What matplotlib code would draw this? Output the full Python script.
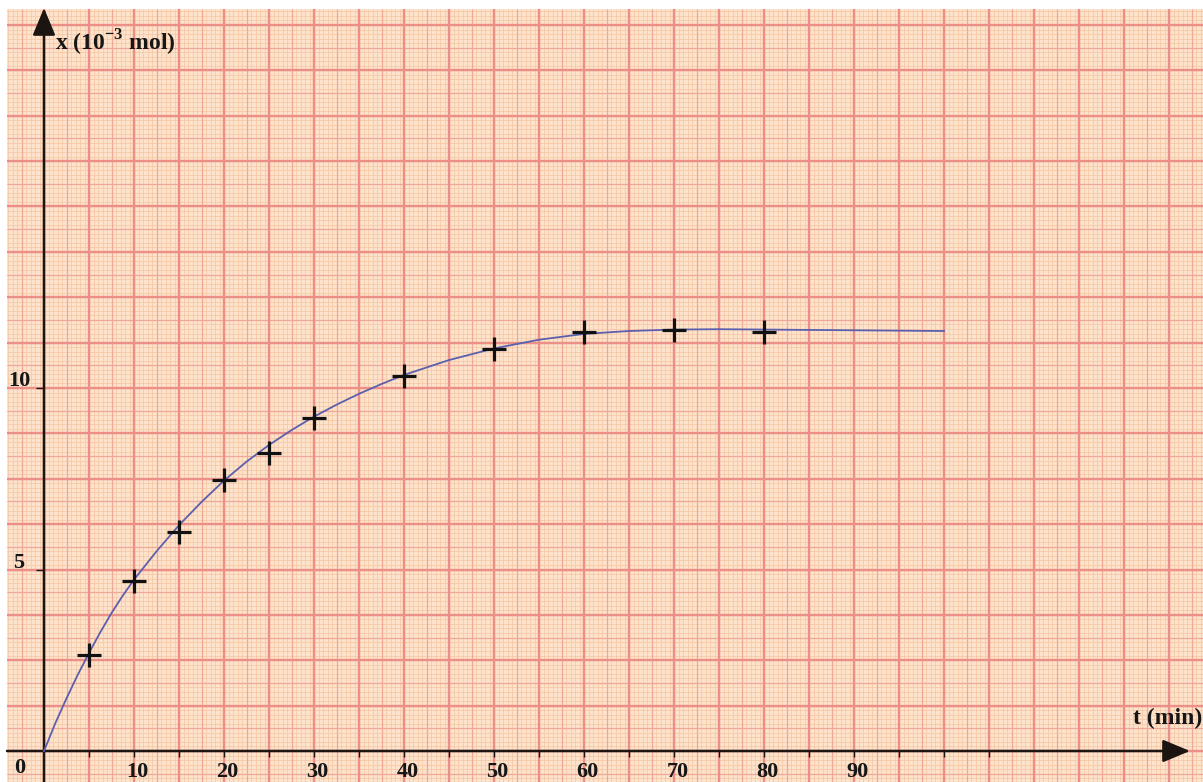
import numpy as np
from matplotlib import pyplot as plt

plt.rcParams['font.family'] = ['Liberation Serif', 'DejaVu Serif']
plt.rcParams['font.weight'] = 'bold'
plt.rcParams['mathtext.fontset'] = 'custom'
plt.rcParams['mathtext.rm'] = 'Liberation Serif:bold'
plt.rcParams['mathtext.bf'] = 'Liberation Serif:bold'

# measured points (t in min, x in 10^-3 mol)
tPoints = [5, 10, 15, 20, 25, 30, 40, 50, 60, 70, 80]
xPoints = [2.64, 4.69, 6.04, 7.47, 8.20, 9.17, 10.33, 11.07, 11.53, 11.60, 11.54]

# drawn curve
tCurve = [0, 1.25, 2.5, 3.75, 5, 6.25, 7.5, 8.75, 10, 12.5, 15, 17.5, 20, 22.5, 25, 27.5,
          30, 32.5, 35, 37.5, 40, 45, 50, 55, 60, 65, 70, 75, 80, 85, 90, 95, 100]
xCurve = [0, 0.76, 1.45, 2.10, 2.70, 3.27, 3.80, 4.28, 4.72, 5.50, 6.22, 6.86, 7.45, 7.97,
          8.43, 8.84, 9.21, 9.54, 9.84, 10.11, 10.36, 10.77, 11.09, 11.33, 11.49, 11.57,
          11.61, 11.62, 11.61, 11.60, 11.59, 11.58, 11.57]

xTickLabels = [10, 20, 30, 40, 50, 60, 70, 80, 90]
yTickLabels = [5, 10]

# graph paper scale
pxPerMin = 9.0
pxPerUnit = 36.3
originPx = (44, 751)
W, H = 1203, 782


def toData(px, py):
    return (px - originPx[0]) / pxPerMin, (originPx[1] - py) / pxPerUnit


fig = plt.figure(figsize=(W / 100, H / 100), dpi=100)
ax = fig.add_axes([0, 0, 1, 1])
ax.axis('off')
x0, y0 = toData(0, H)
x1, y1 = toData(W, 0)
ax.set_xlim(x0, x1)
ax.set_ylim(y0, y1)

# paper
px0, py1 = toData(7, 9)
ax.fill_between([px0, x1], y0, py1, color='#fde3cc', zorder=0, lw=0)

# fine / medium / thick lines
for step, color, lw, z in [(0.5, '#f4c8a6', 0.55, 1), (2.5, '#efa898', 0.9, 2), (5.0, '#eb8f87', 1.7, 3)]:
    ts = np.arange(0, x1, step)
    ts = np.concatenate([np.arange(-step, px0, -step)[::-1], ts])
    ax.vlines(ts, y0, py1, colors=color, lw=lw, zorder=z)
for step, color, lw, z in [(0.125, '#f4c8a6', 0.55, 1), (0.625, '#efa898', 0.9, 2), (1.25, '#eb8f87', 1.7, 3)]:
    ys = np.arange(0, py1, step)
    ys = np.concatenate([np.arange(-step, y0, -step)[::-1], ys])
    ax.hlines(ys, px0, x1, colors=color, lw=lw, zorder=z)

# axes with arrows
axisColor = '#1c1410'
tipX, _ = toData(1190, 0)
_, tipY = toData(0, 8)
ax.annotate('', xy=(tipX, 0), xytext=(px0, 0),
            arrowprops=dict(arrowstyle='-|>,head_length=1.2,head_width=0.5', color=axisColor,
                            lw=1.8, shrinkA=0, shrinkB=0, mutation_scale=14), zorder=6)
ax.annotate('', xy=(0, tipY), xytext=(0, y0),
            arrowprops=dict(arrowstyle='-|>,head_length=1.2,head_width=0.5', color=axisColor,
                            lw=1.8, shrinkA=0, shrinkB=0, mutation_scale=14), zorder=6)

# ticks
tickLen = 6 / pxPerUnit
ax.vlines(np.arange(5, 110, 5), -tickLen, 0, colors=axisColor, lw=1.0, zorder=6)
ax.hlines(yTickLabels, -8 / pxPerMin, 0, colors=axisColor, lw=1.0, zorder=6)

labY = toData(0, 762)[1]
for v in xTickLabels:
    ax.text(v + 0.4, labY, str(v), ha='center', va='top', fontsize=16, fontweight='bold',
            color='#161616', zorder=7)
ax.text(toData(20, 0)[0], toData(0, 758)[1], '0', ha='center', va='top', fontsize=16,
        fontweight='bold', color='#161616', zorder=7)
for v in yTickLabels:
    ax.text(toData(19, 0)[0], v + 0.05, str(v), ha='center', va='baseline', fontsize=16,
            fontweight='bold', color='#161616', zorder=7)

ax.text(toData(55, 0)[0], toData(0, 51)[1], r'x (10$^{\mathrm{-3}}$ mol)', ha='left',
        va='baseline', fontsize=17, fontweight='bold', color='#161616', zorder=7)
ax.text(toData(1202, 0)[0], toData(0, 724)[1], 't (min)', ha='right', va='baseline',
        fontsize=17, fontweight='bold', color='#161616', zorder=7)

# curve and points
ax.plot(tCurve, xCurve, color='#5b5fae', lw=1.3, zorder=8)
ax.plot(tPoints, xPoints, linestyle='none', marker='+', markersize=17, markeredgewidth=2.3,
        color='#111111', zorder=9)

fig.savefig('out.png', dpi=100)
